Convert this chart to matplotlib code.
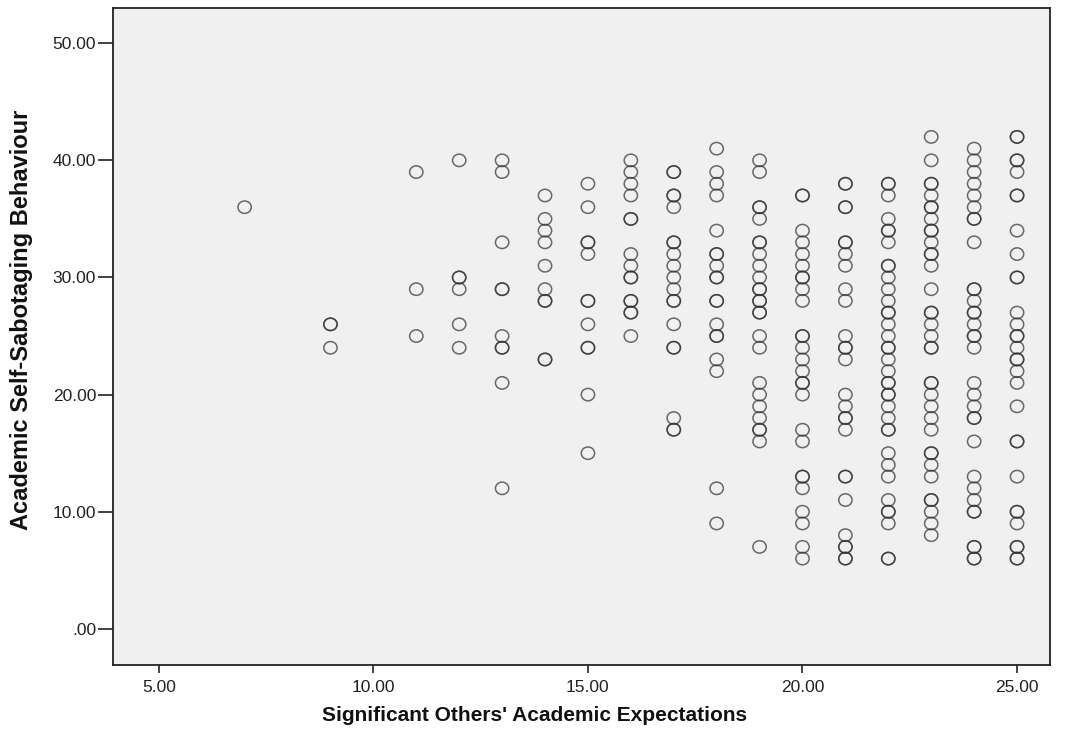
import matplotlib
matplotlib.use("Agg")
import matplotlib.pyplot as plt
from matplotlib.path import Path
from matplotlib.transforms import Affine2D
from matplotlib.ticker import FuncFormatter

# Significant Others' Academic Expectations (x) and the observed
# Academic Self-Sabotaging Behaviour scores (y) at each x value.
x_values = [7, 9, 11, 12, 13, 14, 15, 16, 17, 18, 19, 20, 21, 22, 23, 24, 25]

y_at_7 = [36]
y_at_9 = [26, 26, 24]
y_at_11 = [39, 29, 25]
y_at_12 = [40, 30, 30, 29, 26, 24]
y_at_13 = [40, 39, 33, 29, 29, 25, 24, 24, 21, 12]
y_at_14 = [37, 35, 34, 33, 31, 29, 28, 28, 23, 23]
y_at_15 = [38, 36, 33, 33, 32, 28, 28, 26, 24, 24, 20, 15]
y_at_16 = [40, 39, 38, 37, 35, 35, 32, 31, 30, 30, 28, 28, 27, 27, 25]
y_at_17 = [39, 39, 37, 37, 36, 33, 33, 32, 31, 30, 29, 28, 28, 26, 24, 24, 18, 17, 17]
y_at_18 = [41, 39, 38, 37, 34, 32, 32, 31, 30, 30, 28, 28, 26, 25, 25, 23, 22, 12, 9]
y_at_19 = [40, 39, 36, 36, 35, 33, 33, 32, 31, 30, 29, 29, 28, 28, 27, 27, 25, 24,
           21, 20, 19, 18, 17, 17, 16, 7]
y_at_20 = [37, 37, 34, 33, 32, 31, 30, 30, 29, 28, 25, 25, 24, 23, 22, 21, 21, 20,
           17, 16, 13, 13, 12, 10, 9, 7, 6]
y_at_21 = [38, 38, 36, 36, 33, 33, 32, 31, 29, 28, 25, 24, 24, 23, 20, 19, 18, 18,
           17, 13, 13, 11, 8, 7, 7, 6, 6]
y_at_22 = [38, 38, 37, 35, 34, 34, 33, 31, 31, 30, 29, 28, 27, 27, 26, 25, 24, 24,
           23, 22, 21, 21, 20, 20, 19, 18, 17, 17, 15, 14, 13, 11, 10, 10, 9, 6, 6]
y_at_23 = [42, 40, 38, 38, 37, 36, 36, 35, 34, 34, 33, 32, 32, 31, 29, 27, 27, 26,
           25, 24, 24, 21, 21, 20, 19, 18, 17, 15, 15, 14, 13, 11, 11, 10, 9, 8]
y_at_24 = [41, 40, 39, 38, 37, 36, 35, 35, 33, 29, 29, 28, 27, 27, 26, 25, 25, 24,
           21, 20, 19, 18, 18, 16, 13, 12, 11, 10, 10, 7, 7, 6, 6]
y_at_25 = [42, 42, 40, 40, 39, 37, 37, 34, 32, 30, 30, 27, 26, 25, 25, 24, 23, 23,
           22, 21, 19, 16, 16, 13, 10, 10, 9, 7, 7, 6, 6]

y_columns = [y_at_7, y_at_9, y_at_11, y_at_12, y_at_13, y_at_14, y_at_15, y_at_16,
             y_at_17, y_at_18, y_at_19, y_at_20, y_at_21, y_at_22, y_at_23, y_at_24,
             y_at_25]

x_ticks = [5, 10, 15, 20, 25]
y_ticks = [0, 10, 20, 30, 40, 50]

xs = [x for x, col in zip(x_values, y_columns) for _ in col]
ys = [y for col in y_columns for y in col]

plt.rcParams['font.family'] = ['Liberation Sans', 'DejaVu Sans']

fig = plt.figure(figsize=(10.65, 7.33), dpi=100)
ax = fig.add_axes([0.106, 0.093, 0.880, 0.896])
ax.set_facecolor('#f0f0f0')

# slightly flattened open-circle marker
circle = Path.unit_circle()
oval = Path(Affine2D().scale(1.0, 0.93).transform(circle.vertices), circle.codes)

ax.scatter(xs, ys, s=92, marker=oval, facecolors='none', edgecolors='#333333',
           linewidths=1.1, alpha=0.72, zorder=3)

ax.set_xlim(3.93, 25.77)
ax.set_ylim(-3.07, 53.0)
ax.set_xticks(x_ticks)
ax.set_yticks(y_ticks)


def spss_fmt(v, _pos):
    s = f"{v:.2f}"
    return s[1:] if s.startswith("0") else s


ax.xaxis.set_major_formatter(FuncFormatter(spss_fmt))
ax.yaxis.set_major_formatter(FuncFormatter(spss_fmt))
ax.tick_params(axis='both', direction='out', width=1.2, color='#222222',
               labelsize=12.5, labelcolor='#222222')
ax.tick_params(axis='x', length=6, pad=5)
ax.tick_params(axis='y', length=11, pad=1)

for side in ['left', 'bottom', 'top', 'right']:
    ax.spines[side].set_color('#222222')
    ax.spines[side].set_linewidth(1.3)

ax.set_xlabel("Significant Others' Academic Expectations", fontsize=15,
              fontweight='bold', color='#111111')
ax.xaxis.set_label_coords(0.450, -0.062)
ax.set_ylabel("Academic Self-Sabotaging Behaviour", fontsize=17,
              fontweight='bold', color='#111111')
ax.yaxis.set_label_coords(-0.085, 0.525)

fig.savefig('out.png', dpi=100, facecolor='white')
